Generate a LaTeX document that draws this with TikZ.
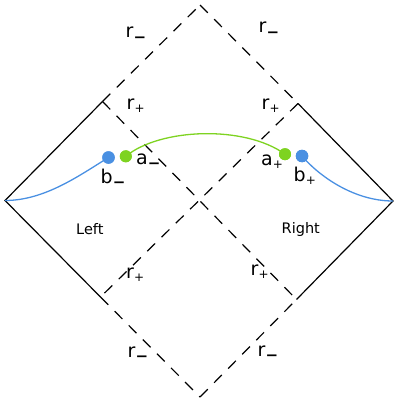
\documentclass[tikz,border=0pt]{standalone}
\usepackage{fontspec}
\setmainfont{DejaVu Sans}
\definecolor{dotblue}{HTML}{4A90E2}
\definecolor{dotgreen}{HTML}{7ED321}
\newcommand\subm{\raisebox{-4.2pt}{\fontsize{15}{15}\selectfont\bfseries −}}
\newcommand\subp{\raisebox{-3pt}{\fontsize{12}{12}\selectfont +}}
\tikzset{
  edge/.style={line width=1.2pt, black},
  horizon/.style={line width=1.2pt, black, dash pattern=on 11pt off 9pt},
  bluecurve/.style={line width=1.3pt, dotblue},
  greencurve/.style={line width=1.3pt, dotgreen},
  bdot/.style={circle, fill=dotblue, inner sep=0pt, minimum size=12.5pt},
  gdot/.style={circle, fill=dotgreen, inner sep=0pt, minimum size=12pt},
  lab/.style={anchor=base west, inner sep=0pt, font=\fontsize{19}{19}\selectfont},
  region/.style={anchor=base west, inner sep=0pt, font=\fontsize{14.5}{14.5}\selectfont},
}
\begin{document}
\begin{tikzpicture}[x=1pt, y=-1pt]
\useasboundingbox (0,0) rectangle (394,401);
% vertices
\coordinate (L) at (5,200.5);
\coordinate (R) at (393,201);
\coordinate (T) at (200,5);
\coordinate (B) at (200,397);
\coordinate (LT) at (102.5,101.5);
\coordinate (RT) at (298,103.5);
\coordinate (LB) at (100.5,297);
\coordinate (RB) at (296.5,299.5);
% solid boundaries
\draw[edge] (LT) -- (L) -- (LB);
\draw[edge] (RT) -- (R) -- (RB);
% dashed horizons
\draw[horizon] (LT) -- (T);
\draw[horizon] (T) -- (RT);
\draw[horizon] (LT) -- (RB);
\draw[horizon] (RT) -- (LB);
\draw[horizon] (LB) -- (B);
\draw[horizon] (B) -- (RB);
% dots
\node[bdot] (bL) at (108.5,157.5) {};
\node[gdot] (aL) at (125.8,156.3) {};
\node[gdot] (aR) at (285,154.2) {};
\node[bdot] (bR) at (302,156) {};
% curves
\draw[bluecurve] (L) .. controls (45,200.5) and (80,175) .. (bL.center);
\draw[bluecurve] (R) .. controls (353,201) and (318,175) .. (bR.center);
\draw[greencurve] (aL.center) .. controls (160,128) and (245,125) .. (aR.center);
\node[bdot] at (bL) {};
\node[gdot] at (aL) {};
\node[gdot] at (aR) {};
\node[bdot] at (bR) {};
% labels
\node[lab] (rm1) at (125.5,38) {r\subm};
\node[lab] (rm2) at (258.5,33) {r\subm};
\node[lab] (rp1) at (126.5,110) {r\subp};
\node[lab] (rp2) at (261.5,110) {r\subp};
\node[lab] (am) at (136,164) {a\subm};
\node[lab] (ap) at (261,165) {a\subp};
\node[lab] (bm) at (100.5,183) {b\subm};
\node[lab] (bp) at (293.5,181) {b\subp};
\node[region] (left) at (76,234) {Left};
\node[region] (right) at (281.5,233) {Right};
\node[lab] (rp3) at (126,278) {r\subp};
\node[lab] (rp4) at (250.5,275) {r\subp};
\node[lab] (rm3) at (127.5,357) {r\subm};
\node[lab] (rm4) at (257.5,356) {r\subm};
\end{tikzpicture}
\end{document}
